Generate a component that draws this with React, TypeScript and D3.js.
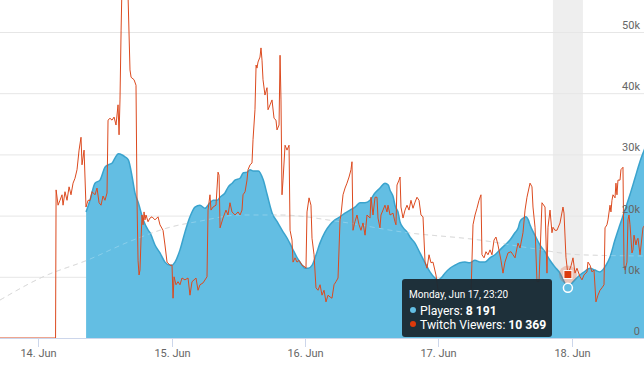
import React from 'react';
import * as d3 from 'd3';

// hours after 14 Jun 2019 00:00 (UTC), value
const players: [number, number][] = [
  [8.6, 20600], [9.3, 22500], [10.2, 25300], [11.1, 25800], [12.0, 27900], [12.6, 28300],
  [13.3, 28600], [13.8, 29400], [14.4, 30100], [15.1, 29900], [15.6, 29600], [16.2, 29100],
  [16.9, 26300], [17.4, 23700], [18.0, 22100], [18.9, 19300], [19.8, 17600], [20.1, 17200],
  [21.0, 15200], [21.9, 13900], [22.8, 12400], [23.7, 11900], [24.1, 11900], [24.6, 12400],
  [25.5, 14400], [26.4, 17300], [27.3, 19800], [28.2, 21400], [29.1, 21700], [30.0, 21200],
  [30.9, 22100], [31.5, 22500], [32.2, 22500], [32.7, 23000], [33.6, 23700], [34.2, 24700],
  [34.9, 25300], [35.4, 25800], [36.3, 26100], [36.9, 27000], [37.6, 27100], [38.1, 27500],
  [38.7, 27300], [39.6, 27300], [40.5, 25800], [41.2, 23400], [42.1, 20400], [43.0, 19000],
  [43.9, 17600], [44.8, 16300], [45.7, 14700], [46.6, 13100], [47.5, 11900], [48.0, 11400],
  [48.6, 11400], [49.3, 11900], [50.0, 13600], [50.7, 15500], [51.6, 17300], [52.5, 18500],
  [53.4, 19300], [54.3, 19800], [55.2, 20400], [56.1, 20900], [57.0, 21400], [57.9, 22100],
  [58.8, 22100], [59.7, 22500], [60.6, 23700], [61.5, 24500], [62.4, 25300], [63.0, 25000],
  [63.3, 24200], [63.9, 23000], [64.2, 21700], [64.8, 20400], [65.1, 19000], [65.7, 18000],
  [66.4, 17300], [66.9, 16500], [67.8, 15500], [68.7, 13900], [69.6, 12300], [70.5, 10800],
  [71.4, 9800], [72.0, 9500], [72.7, 10000], [73.2, 10600], [74.1, 11400], [75.0, 11900],
  [75.9, 12300], [76.8, 12400], [77.7, 12300], [78.6, 12700], [79.5, 12400], [80.4, 12400],
  [81.3, 13100], [82.2, 13600], [83.1, 14400], [84.0, 15200], [84.9, 16000], [85.8, 17200],
  [86.4, 18000], [86.7, 19000], [87.3, 19600], [87.8, 19800], [88.2, 19300], [88.5, 18500],
  [89.4, 16800], [90.3, 15200], [91.2, 14100], [92.1, 12700], [93.0, 11600], [93.9, 10600],
  [94.6, 9300], [95.333, 8191], [95.9, 8800], [96.6, 9500], [97.5, 10300], [98.4, 10900],
  [99.3, 11400], [100.2, 11100], [101.1, 10800], [101.6, 11100], [102.2, 11900], [102.9, 13200],
  [103.8, 16000], [104.7, 18500], [105.6, 20900], [106.5, 23400], [107.4, 26100], [108.3, 28800],
  [109.2, 31000],
];

const twitchViewers: [number, number][] = [
  [-6.9, 0], [3.1, 0], [3.2, 24200], [3.55, 21700], [3.9, 22500], [4.27, 23400], [4.45, 21700],
  [4.8, 23900], [5.17, 22500], [5.53, 24700], [5.89, 23400], [6.25, 25300], [6.6, 26100],
  [6.97, 27500], [7.33, 30700], [7.69, 32800], [7.87, 28300], [8.23, 30700], [8.59, 21400],
  [8.95, 22500], [9.31, 22500], [9.67, 23900], [10.2, 23400], [10.57, 24500], [10.93, 22100],
  [11.29, 21700], [11.65, 23200], [12.0, 22500], [12.37, 23700], [12.55, 35600], [12.9, 35900],
  [13.27, 35600], [13.63, 36100], [13.99, 34800], [14.35, 38100], [14.53, 33200], [14.7, 38900],
  [14.9, 50300], [15.07, 58000], [15.6, 59000], [16.15, 56000], [16.5, 43800], [16.7, 42600],
  [17.23, 42200], [17.59, 41300], [17.77, 22500], [17.95, 12700], [18.13, 10300], [18.3, 11100],
  [18.49, 16000], [18.67, 20100], [18.85, 18500], [19.03, 20600], [19.2, 19300], [19.39, 20100],
  [19.75, 19000], [20.1, 19600], [20.47, 19800], [21.0, 19300], [21.55, 19800], [21.9, 18500],
  [22.45, 17600], [22.8, 15200], [23.17, 12400], [23.7, 11900], [24.07, 11900], [24.25, 6500],
  [24.43, 10000], [24.79, 8700], [25.15, 9200], [25.5, 8700], [25.87, 9800], [26.4, 9500],
  [26.95, 9800], [27.3, 7000], [27.67, 9200], [28.03, 9500], [28.39, 9800], [28.75, 7800],
  [29.1, 8700], [29.65, 9000], [30.37, 10000], [30.55, 20900], [30.9, 23400], [31.09, 20900],
  [31.45, 21400], [31.99, 21700], [32.35, 27100], [32.53, 26600], [32.71, 18000], [33.25, 19600],
  [33.79, 20900], [34.15, 20100], [34.5, 22100], [34.87, 20600], [35.41, 20100], [35.95, 20600],
  [36.31, 20100], [36.67, 20900], [36.85, 23400], [37.21, 23900], [37.57, 25800], [37.75, 27500],
  [38.11, 28300], [38.47, 28600], [38.65, 32400], [39.0, 37300], [39.2, 44600], [39.37, 44100],
  [39.55, 45100], [39.9, 45900], [40.09, 47400], [40.27, 45400], [40.45, 42200], [40.8, 39700],
  [41.17, 40900], [41.35, 37300], [41.71, 38100], [42.07, 38900], [42.43, 35900], [42.79, 35600],
  [42.97, 34000], [43.33, 34800], [43.51, 46200], [43.69, 38900], [43.87, 23400], [44.05, 25800],
  [44.41, 31500], [44.77, 30700], [45.13, 31500], [45.31, 17600], [45.67, 16000], [45.85, 12400],
  [46.21, 13100], [46.57, 12400], [46.93, 12700], [47.47, 11900], [48.01, 11600], [48.19, 11400],
  [48.37, 20600], [48.73, 22900], [49.09, 21700], [49.27, 16300], [49.63, 13600], [49.99, 8200],
  [50.35, 7800], [50.71, 8700], [51.07, 7000], [51.43, 7800], [51.79, 5900], [52.15, 7000],
  [52.51, 6700], [52.87, 6500], [53.23, 8700], [53.59, 9200], [53.95, 9800], [54.31, 19300],
  [54.49, 20100], [54.85, 23400], [55.21, 24500], [55.57, 25300], [55.93, 26300], [56.29, 27500],
  [56.47, 28800], [56.65, 17600], [57.0, 19000], [57.37, 20100], [57.73, 18500], [58.09, 17600],
  [58.45, 18800], [58.81, 16800], [59.17, 20100], [59.71, 19600], [59.89, 23000], [60.25, 20100],
  [60.61, 23000], [60.97, 23000], [61.15, 19600], [61.5, 18000], [61.69, 20100], [62.05, 20900],
  [62.4, 21700], [62.77, 20600], [62.95, 21700], [63.31, 20100], [63.85, 20400], [64.2, 19000],
  [64.39, 18500], [64.57, 25000], [64.93, 25800], [65.11, 26300], [65.29, 21400], [65.65, 19600],
  [66.01, 20900], [66.37, 21700], [66.73, 20900], [67.09, 22500], [67.45, 21200], [67.81, 22200],
  [68.17, 23000], [68.53, 22500], [68.89, 20100], [69.25, 19800], [69.61, 12400], [69.97, 11400],
  [70.33, 13600], [70.69, 12300], [71.05, 12400], [71.59, 10300], [71.95, 7800], [73.2, 7400],
  [75.0, 7800], [76.8, 7500], [77.9, 7400], [78.25, 18500], [78.61, 20100], [78.97, 21200],
  [79.33, 22500], [79.69, 23400], [79.87, 13600], [80.23, 13100], [80.59, 14100], [80.95, 13600],
  [81.31, 14400], [81.67, 13600], [82.03, 16000], [82.39, 16500], [82.75, 15200], [83.29, 12700],
  [83.65, 10600], [84.0, 12400], [84.55, 13900], [85.09, 14100], [85.45, 13600], [85.81, 13100],
  [86.35, 15500], [86.71, 14700], [87.25, 17200], [87.61, 20900], [87.97, 23000], [88.51, 25300],
  [88.87, 24700], [89.05, 21400], [89.41, 18100], [89.77, 9200], [90.13, 9200], [90.67, 22100],
  [91.21, 21400], [91.57, 10600], [91.75, 18100], [92.11, 20900], [92.47, 17200], [92.65, 18100],
  [93.0, 17600], [93.37, 17600], [93.91, 18800], [94.45, 21400], [94.63, 20400], [94.99, 13200],
  [95.333, 10369], [95.9, 11800], [96.25, 13100], [96.61, 10600], [96.97, 11400], [97.51, 10000],
  [97.87, 9500], [98.23, 10300], [98.77, 10800], [98.95, 12400], [99.31, 11900], [99.67, 10800],
  [100.03, 11100], [100.39, 5900], [100.75, 7000], [101.11, 7800], [101.47, 8200], [101.83, 8700],
  [102.01, 18000], [102.37, 18500], [102.55, 19300], [102.91, 21700], [103.09, 20600],
  [103.27, 22500], [103.45, 23400], [103.81, 22900], [103.99, 25300], [104.17, 23400],
  [104.35, 25800], [104.71, 25800], [104.89, 27500], [105.25, 27900], [105.43, 11900],
  [105.61, 11100], [105.97, 12400], [106.15, 19300], [106.33, 20100], [106.51, 18500],
  [106.87, 13900], [107.05, 14400], [107.23, 16800], [107.59, 15200], [107.77, 16000],
  [107.95, 16300], [108.31, 13600], [108.85, 18000], [109.2, 18500],
];

const trend: [number, number][] = [
  [-6.9, 6200], [0.85, 10000], [8.77, 12700], [17.05, 16000], [23.7, 18100], [29.1, 19100],
  [36.3, 20100], [43.5, 20100], [54.3, 19000], [65.65, 17300], [79.5, 16000], [88.5, 14700],
  [97.5, 13600], [109.2, 13400],
];

const yTicks = [0, 10000, 20000, 30000, 40000, 50000];
const hoverHour = 95.333;
const hoverPlayers = 8191;
const hoverViewers = 10369;

const W = 644;
const H = 368;
const plotBottom = 338;
const font = 'Roboto, "Noto Sans", sans-serif';

const baseMs = Date.UTC(2019, 5, 14);
// rounded to the minute
const toDate = (h: number) => new Date(baseMs + Math.round(h * 60) * 60e3);

const locale = d3.formatLocale({ decimal: '.', thousands: ' ', grouping: [3], currency: ['', ''] });
const fmtNum = locale.format(',');
const fmtHeader = d3.utcFormat('%A, %b %-d, %H:%M');
const fmtDay = d3.utcFormat('%-d. %b');

export default function App() {
  const x = d3.scaleUtc()
    .domain([new Date('2019-06-13T17:06:00Z'), new Date('2019-06-18T13:02:00Z')])
    .range([0, W]);
  const y = d3.scaleLinear().domain([0, 50000]).range([plotBottom, 32]);

  const areaGen = d3.area<[number, number]>()
    .x(d => x(toDate(d[0])))
    .y0(y(0))
    .y1(d => y(d[1]))
    .curve(d3.curveMonotoneX);
  const smoothLine = d3.line<[number, number]>()
    .x(d => x(toDate(d[0])))
    .y(d => y(d[1]))
    .curve(d3.curveMonotoneX);
  const redLine = d3.line<[number, number]>()
    .x(d => x(toDate(d[0])))
    .y(d => y(d[1]));

  const days = x.ticks(d3.utcDay.every(1)!);
  const hx = x(toDate(hoverHour));
  const bandW = 30;

  const tipX = 402;
  const tipY = 279;

  return (
    <svg width={W} height={H} style={{ position: 'absolute', left: 0, top: 0, display: 'block' }}
      fontFamily={font}>
      <rect x={0} y={0} width={W} height={H} fill="#fff" />
      {/* crosshair band */}
      <rect x={hx - bandW / 2} y={0} width={bandW} height={plotBottom} fill="#eeeeee" />
      {/* grid */}
      {yTicks.map(t => (
        <line key={t} x1={0} x2={W} y1={y(t) + 0.5} y2={y(t) + 0.5} stroke="#e6e6e6" />
      ))}
      {/* trend */}
      <path d={smoothLine(trend) ?? ''} fill="none" stroke="#cfcfcf" strokeWidth={1} strokeDasharray="5,4" />
      {/* players */}
      <path d={areaGen(players) ?? ''} fill="#63bee3" />
      <path d={smoothLine(players) ?? ''} fill="none" stroke="#3aa3cd" strokeWidth={1.5} />
      <path d={smoothLine(trend) ?? ''} fill="none" stroke="#ffffff" strokeOpacity={0.25} strokeWidth={1} strokeDasharray="5,4" />
      {/* twitch viewers */}
      <path d={redLine(twitchViewers) ?? ''} fill="none" stroke="#dc4a1f" strokeWidth={1} strokeLinejoin="round" />
      {/* x axis */}
      <line x1={0} x2={W} y1={plotBottom + 0.5} y2={plotBottom + 0.5} stroke="#ccd6eb" />
      {days.map(d => (
        <g key={+d} transform={`translate(${Math.round(x(d)) + 0.5},0)`}>
          <line y1={plotBottom} y2={plotBottom + 9} stroke="#ccd6eb" />
          <text y={357} textAnchor="middle" fontSize={11} fill="#666">{fmtDay(d)}</text>
        </g>
      ))}
      {/* y labels */}
      {yTicks.map(t => (
        <text key={t} x={640} y={y(t) - 3} textAnchor="end" fontSize={11} fill="#666">
          {t === 0 ? '0' : `${t / 1000}k`}
        </text>
      ))}
      {/* hover markers */}
      <circle cx={hx} cy={y(hoverViewers)} r={9} fill="#dc4a1f" fillOpacity={0.25} />
      <rect x={hx - 4} y={y(hoverViewers) - 4} width={8} height={8} fill="#dc3a0c" stroke="#fff" strokeWidth={1} />
      <circle cx={hx} cy={y(hoverPlayers)} r={4.5} fill="#63bee3" stroke="#fff" strokeWidth={1.5} />
      {/* tooltip */}
      <g transform={`translate(${tipX},${tipY})`}>
        <rect x={0} y={0} width={150} height={58} rx={3} fill="#1b2a33" fillOpacity={0.96} />
        <text x={7} y={19} fontSize={10} fill="#fff">{fmtHeader(toDate(hoverHour))}</text>
        <circle cx={11} cy={31} r={3} fill="#63bee3" />
        <text x={18} y={35.5} fontSize={12.2} fill="#fff">
          Players: <tspan fontWeight="bold">{fmtNum(hoverPlayers)}</tspan>
        </text>
        <circle cx={11} cy={45} r={3} fill="#dc3a0c" />
        <text x={18} y={49.5} fontSize={12.2} fill="#fff">
          Twitch Viewers: <tspan fontWeight="bold">{fmtNum(hoverViewers)}</tspan>
        </text>
      </g>
    </svg>
  );
}
